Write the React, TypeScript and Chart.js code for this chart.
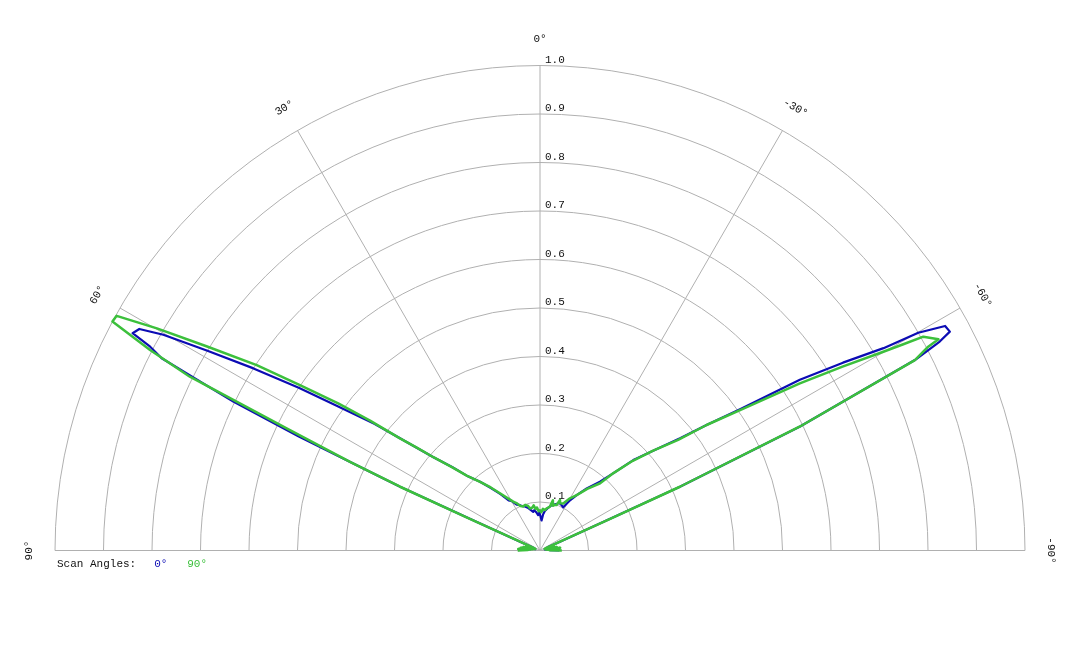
import React, { useEffect, useRef } from "react";
import { Chart, registerables } from "chart.js";

Chart.register(...registerables);

// ---- data ----
const RING_VALUES = [0.1, 0.2, 0.3, 0.4, 0.5, 0.6, 0.7, 0.8, 0.9, 1.0];
const RING_LABELS = ["0.1", "0.2", "0.3", "0.4", "0.5", "0.6", "0.7", "0.8", "0.9", "1.0"];
const SPOKE_ANGLES = [90, 60, 30, 0, -30, -60, -90];
const SPOKE_LABELS = ["90°", "60°", "30°", "0°", "-30°", "-60°", "-90°"];
const LEGEND_TITLE = "Scan Angles:";
const SERIES_NAMES = ["0°", "90°"];

// angle in degrees measured from vertical (positive = left), radius normalized
const BLUE_ANGLES = [
  -90, -88, -86, -84, -82, -80, -78, -76, -74, -72, -70, -67, -66, -65.7, -65.5, -64.5, -63.07, -62.4,
  -61.9, -61.0, -60.07, -59.5, -58.2, -56.7, -54.75, -53, -51.3, -48.5, -45.9, -43.5, -41.1, -37, -33.5,
  -30.5, -28.3, -25, -22, -19, -16, -13, -10, -7, -5, -3, -1, 1, 3, 5, 8, 10, 13, 16, 19, 22, 25, 27, 30,
  32, 35, 38, 41.1, 44.4, 46.5, 48.8, 51.3, 52.6, 54.5, 56, 57.56, 59, 60.2, 61.06, 61.93, 62.4, 63.06,
  64.1, 64.7, 65.5, 65.7, 66, 67, 70, 72, 74, 76, 78, 80, 82, 84, 86, 88, 90,
];
const BLUE_R = [
  0.04, 0.02, 0.035, 0.015, 0.03, 0.012, 0.025, 0.01, 0.02, 0.012, 0.015, 0.02, 0.05, 0.16, 0.317, 0.594,
  0.867, 0.93, 0.958, 0.955, 0.9, 0.822, 0.735, 0.641, 0.505, 0.43, 0.37, 0.31, 0.268, 0.22, 0.188, 0.16,
  0.137, 0.118, 0.101, 0.104, 0.106, 0.101, 0.098, 0.094, 0.088, 0.082, 0.075, 0.062, 0.07, 0.079, 0.073,
  0.078, 0.084, 0.081, 0.086, 0.092, 0.096, 0.099, 0.104, 0.106, 0.118, 0.122, 0.142, 0.163, 0.188, 0.216,
  0.25, 0.292, 0.37, 0.43, 0.511, 0.6, 0.7, 0.8, 0.895, 0.944, 0.952, 0.907, 0.875, 0.703, 0.55, 0.317,
  0.16, 0.05, 0.02, 0.012, 0.025, 0.01, 0.03, 0.015, 0.035, 0.02, 0.04, 0.025, 0.042, 0.045,
];

const GREEN_ANGLES = [
  -90, -88, -86, -84, -82, -80, -78, -76, -74, -72, -70, -68, -66, -65.7, -65.5, -64.5, -63.07, -62.3,
  -62.07, -60.85, -60.4, -59.93, -58.7, -57.26, -55.2, -53, -51.3, -48.5, -45.9, -43.5, -41.8, -37.5,
  -33.5, -29.9, -26.3, -23, -21.6, -20, -18, -16, -14.4, -12.5, -9, -7, -4, -2, 0, 2, 4, 6, 8, 10, 13.3,
  15, 18, 21, 23.7, 26, 28.7, 32, 35, 38, 41.1, 44.4, 46.6, 48.8, 50.1, 51.3, 52.6, 53.9, 55.45, 56.8,
  58.5, 59.9, 61.0, 61.83, 62.79, 63.6, 64.25, 65.0, 65.5, 65.7, 66, 68, 70, 72, 74, 76, 78, 80, 82, 84,
  86, 88, 90,
];
const GREEN_R = [
  0.045, 0.02, 0.04, 0.015, 0.042, 0.012, 0.035, 0.015, 0.03, 0.01, 0.025, 0.012, 0.05, 0.16, 0.317, 0.594,
  0.867, 0.904, 0.93, 0.905, 0.86, 0.818, 0.73, 0.637, 0.515, 0.43, 0.365, 0.31, 0.265, 0.22, 0.186, 0.16,
  0.137, 0.124, 0.108, 0.106, 0.112, 0.1, 0.099, 0.096, 0.107, 0.092, 0.088, 0.084, 0.086, 0.079, 0.083,
  0.081, 0.089, 0.086, 0.094, 0.09, 0.089, 0.095, 0.099, 0.097, 0.1, 0.108, 0.115, 0.128, 0.144, 0.165,
  0.188, 0.216, 0.25, 0.292, 0.33, 0.37, 0.44, 0.515, 0.601, 0.698, 0.805, 0.913, 0.998, 1.0, 0.904, 0.806,
  0.58, 0.43, 0.317, 0.16, 0.05, 0.012, 0.03, 0.01, 0.028, 0.012, 0.035, 0.015, 0.04, 0.02, 0.045, 0.025,
  0.046, 0.047,
];

const BLUE = "#0c0cb4";
const GREEN = "#3cc03c";
const GRID = "#b0b0b0";
const TEXT = "#111111";
const FONT = "11px 'Courier New', 'Liberation Mono', monospace";

const toXY = (angles: number[], radii: number[]) =>
  angles.map((a, i) => {
    const t = (a * Math.PI) / 180;
    return { x: -radii[i] * Math.sin(t), y: radii[i] * Math.cos(t) };
  });

const polarGrid = {
  id: "polarGrid",
  beforeDatasetsDraw(chart: any) {
    const { ctx } = chart;
    const xs = chart.scales.x;
    const ys = chart.scales.y;
    const cx = xs.getPixelForValue(0);
    const cy = ys.getPixelForValue(0);
    const unit = xs.getPixelForValue(1) - cx;
    const maxR = RING_VALUES[RING_VALUES.length - 1];
    ctx.save();
    ctx.strokeStyle = GRID;
    ctx.lineWidth = 1;
    RING_VALUES.forEach((v) => {
      ctx.beginPath();
      ctx.arc(cx, cy, v * unit, Math.PI, 2 * Math.PI);
      ctx.stroke();
    });
    SPOKE_ANGLES.forEach((a) => {
      const t = (a * Math.PI) / 180;
      ctx.beginPath();
      ctx.moveTo(cx, cy);
      ctx.lineTo(xs.getPixelForValue(-Math.sin(t) * maxR), ys.getPixelForValue(Math.cos(t) * maxR));
      ctx.stroke();
    });
    ctx.restore();
  },
  afterDatasetsDraw(chart: any) {
    const { ctx } = chart;
    const xs = chart.scales.x;
    const ys = chart.scales.y;
    const cx = xs.getPixelForValue(0);
    const cy = ys.getPixelForValue(0);
    const unit = xs.getPixelForValue(1) - cx;
    const maxR = RING_VALUES[RING_VALUES.length - 1];
    ctx.save();
    ctx.font = FONT;
    ctx.fillStyle = TEXT;
    // ring labels
    ctx.textAlign = "left";
    ctx.textBaseline = "alphabetic";
    RING_VALUES.forEach((v, i) => {
      ctx.fillText(RING_LABELS[i], cx + 5, ys.getPixelForValue(v) - 3);
    });
    // angle labels
    ctx.textAlign = "center";
    ctx.textBaseline = "middle";
    const labelR = maxR * unit + 26;
    SPOKE_ANGLES.forEach((a, i) => {
      const t = (a * Math.PI) / 180;
      ctx.save();
      ctx.translate(cx - Math.sin(t) * labelR, cy - Math.cos(t) * labelR);
      ctx.rotate(-t);
      ctx.fillText(SPOKE_LABELS[i], 0, 0);
      ctx.restore();
    });
    // legend
    ctx.textAlign = "left";
    ctx.textBaseline = "alphabetic";
    const lx = cx - maxR * unit + 2;
    const ly = cy + 16;
    ctx.fillText(LEGEND_TITLE, lx, ly);
    let px = lx + ctx.measureText(LEGEND_TITLE).width + 18;
    chart.data.datasets
      .slice()
      .sort((a: any, b: any) => a.legendIndex - b.legendIndex)
      .forEach((ds: any) => {
        ctx.fillStyle = ds.borderColor;
        ctx.fillText(ds.label, px, ly);
        px += ctx.measureText(ds.label + "   ").width;
      });
    ctx.restore();
  },
};

export default function App() {
  const ref = useRef<HTMLCanvasElement | null>(null);
  useEffect(() => {
    if (!ref.current) return;
    const W = 1080;
    const H = 648;
    const cxPix = 540;
    const cyPix = 550.5;
    const unit = 485;
    const chart = new Chart(ref.current, {
      type: "scatter",
      data: {
        datasets: [
          {
            label: SERIES_NAMES[0],
            legendIndex: 0,
            data: toXY(BLUE_ANGLES, BLUE_R),
            borderColor: BLUE,
            backgroundColor: BLUE,
            borderWidth: 2.2,
            showLine: true,
            pointRadius: 0,
            tension: 0,
            borderJoinStyle: "round",
            order: 1,
          } as any,
          {
            label: SERIES_NAMES[1],
            legendIndex: 1,
            data: toXY(GREEN_ANGLES, GREEN_R),
            borderColor: GREEN,
            backgroundColor: GREEN,
            borderWidth: 2.5,
            showLine: true,
            pointRadius: 0,
            tension: 0,
            borderJoinStyle: "round",
            order: 0,
          } as any,
        ],
      },
      options: {
        animation: false,
        responsive: false,
        maintainAspectRatio: false,
        layout: { padding: 0 },
        plugins: { legend: { display: false }, tooltip: { enabled: false }, title: { display: false } },
        scales: {
          x: { type: "linear", display: false, min: -cxPix / unit, max: (W - cxPix) / unit },
          y: { type: "linear", display: false, min: -(H - cyPix) / unit, max: cyPix / unit },
        },
        events: [],
      } as any,
      plugins: [polarGrid],
    });
    return () => chart.destroy();
  }, []);
  return (
    <div style={{ position: "absolute", left: 0, top: 0, width: 1080, height: 648, background: "#fff" }}>
      <canvas ref={ref} width={1080} height={648} style={{ width: 1080, height: 648, display: "block" }} />
    </div>
  );
}
